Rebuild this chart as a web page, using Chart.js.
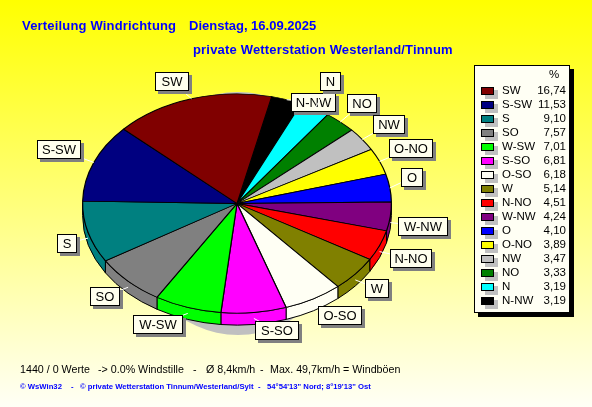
<!DOCTYPE html>
<html>
<head>
<meta charset="utf-8">
<style>
  html, body { margin: 0; padding: 0; width: 592px; height: 407px; overflow: hidden; }
  body { background: linear-gradient(#ffff00, #fffff6); }
  canvas { display: block; }
</style>
<script src="https://cdn.jsdelivr.net/npm/chart.js@4"></script>
</head>
<body>
<canvas id="windChart" width="592" height="407"></canvas>
<script>
// Legend order, largest first
const categories = ['SW', 'S-SW', 'S', 'SO', 'W-SW', 'S-SO', 'O-SO', 'W', 'N-NO', 'W-NW', 'O', 'O-NO', 'NW', 'NO', 'N', 'N-NW'];
const percent = [16.74, 11.53, 9.10, 7.57, 7.01, 6.81, 6.18, 5.14, 4.51, 4.24, 4.10, 3.89, 3.47, 3.33, 3.19, 3.19];
const colors = ['#800000', '#000080', '#008080', '#808080', '#00ff00', '#ff00ff', '#fffff4', '#808000', '#ff0000', '#800080', '#0000ff', '#ffff00', '#c0c0c0', '#008000', '#00ffff', '#000000'];

// Where the callout boxes sit (left, top, width)
const calloutBoxes = {
  'SW': [155, 72, 34], 'N': [320, 72, 21], 'N-NW': [291, 93, 45], 'NO': [347, 94, 30],
  'NW': [373, 115, 32], 'O-NO': [389, 139, 44], 'O': [401, 168, 22], 'W-NW': [398, 217, 50],
  'N-NO': [390, 249, 42], 'W': [365, 279, 24], 'O-SO': [318, 306, 44], 'S-SO': [255, 321, 44],
  'W-SW': [133, 315, 50], 'SO': [90, 287, 30], 'S': [57, 234, 20], 'S-SW': [37, 140, 44]
};

// Footer pieces (text, x)
const footerLine = [
  ['1440 / 0 Werte', 20], ['-> 0.0% Windstille', 98], ['-', 193], ['Ø 8,4km/h', 206],
  ['-', 260], ['Max. 49,7km/h = Windböen', 270]
];
const creditLine = [
  ['© WsWin32', 20], ['-', 71], ['© private Wetterstation Tinnum/Westerland/Sylt', 80],
  ['-', 258], ['54°54\'13" Nord; 8°19\'13" Ost', 267]
];

const SQUASH = 0.71;
const DEPTH = 12;
const BOX_H = 19;
const FONT = '"Liberation Sans", Arial, sans-serif';

// The wheel runs counter-clockwise in the original, so feed it reversed
const wheelLabels = categories.slice().reverse();
const wheelValues = percent.slice().reverse();
const wheelColors = colors.slice().reverse();

const tilt = {
  id: 'tilt',
  beforeDatasetsDraw(chart) {
    // grey shadow below the pie
    const ctx = chart.ctx;
    const arc = chart.getDatasetMeta(0).data[0];
    ctx.save();
    ctx.fillStyle = '#c0c0c0';
    ctx.beginPath();
    ctx.ellipse(arc.x + 1, arc.y + 10, arc.outerRadius - 45, arc.outerRadius * SQUASH + 12, 0, 0, Math.PI * 2);
    ctx.fill();
    ctx.restore();
  },
  beforeDatasetDraw(chart) {
    const ctx = chart.ctx;
    const arcs = chart.getDatasetMeta(0).data;
    const cx = arcs[0].x, cy = arcs[0].y, r = arcs[0].outerRadius;
    // side wall, only the front half shows
    const full = Math.PI * 2;
    arcs.forEach((arc, i) => {
      const wrap = arc.startAngle >= full ? full : 0;
      const from = Math.max(arc.startAngle - wrap, 0);
      const to = Math.min(arc.endAngle - wrap, Math.PI);
      if (to <= from) return;
      ctx.beginPath();
      ctx.ellipse(cx, cy, r, r * SQUASH, 0, from, to);
      ctx.ellipse(cx, cy + DEPTH, r, r * SQUASH, 0, to, from, true);
      ctx.closePath();
      ctx.fillStyle = wheelColors[i];
      ctx.fill();
      ctx.lineWidth = 1;
      ctx.strokeStyle = '#000';
      ctx.stroke();
    });
    ctx.save();
    ctx.translate(cx, cy);
    ctx.scale(1, SQUASH);
    ctx.translate(-cx, -cy);
  },
  afterDatasetDraw(chart) {
    chart.ctx.restore();
  },
  afterDatasetsDraw(chart) {
    const ctx = chart.ctx;
    const arcs = chart.getDatasetMeta(0).data;
    ctx.save();
    ctx.font = '13px ' + FONT;
    ctx.textAlign = 'center';
    ctx.textBaseline = 'middle';
    arcs.forEach((arc, i) => {
      const name = wheelLabels[i];
      const [x, y, w] = calloutBoxes[name];
      const mid = (arc.startAngle + arc.endAngle) / 2;
      const rimX = arc.x + Math.cos(mid) * arc.outerRadius;
      const rimY = arc.y + Math.sin(mid) * arc.outerRadius * SQUASH + (Math.sin(mid) > 0 ? DEPTH / 2 : 0);
      ctx.strokeStyle = '#fff';
      ctx.lineWidth = 1;
      ctx.beginPath();
      ctx.moveTo(rimX, rimY);
      ctx.lineTo(x + w / 2, y + BOX_H / 2);
      ctx.stroke();
      ctx.fillStyle = '#808080';
      ctx.fillRect(x + 3, y + 3, w, BOX_H);
      ctx.fillStyle = '#ffffee';
      ctx.fillRect(x, y, w, BOX_H);
      ctx.strokeStyle = '#000';
      ctx.strokeRect(x + 0.5, y + 0.5, w - 1, BOX_H - 1);
      ctx.fillStyle = '#000';
      ctx.fillText(name, x + w / 2, y + BOX_H / 2 + 1);
    });
    ctx.restore();
  }
};

const sidePanel = {
  id: 'sidePanel',
  afterDraw(chart) {
    const ctx = chart.ctx;
    ctx.save();
    // legend box
    ctx.fillStyle = '#000';
    ctx.fillRect(478, 69, 96, 248);
    ctx.fillStyle = '#fffff4';
    ctx.fillRect(474, 65, 96, 248);
    ctx.strokeStyle = '#000';
    ctx.lineWidth = 1;
    ctx.strokeRect(474.5, 65.5, 95, 247);
    ctx.font = '11.5px ' + FONT;
    ctx.textBaseline = 'middle';
    ctx.fillStyle = '#000';
    ctx.textAlign = 'left';
    ctx.fillText('%', 549, 75);
    categories.forEach((name, i) => {
      const y = 91 + i * 14;
      ctx.fillStyle = '#c0c0c0';
      ctx.fillRect(485, y - 1, 13, 9);
      ctx.fillStyle = colors[i];
      ctx.fillRect(481, y - 4, 13, 8);
      ctx.strokeStyle = '#000';
      ctx.strokeRect(481.5, y - 3.5, 12, 7);
      ctx.fillStyle = '#000';
      ctx.textAlign = 'left';
      ctx.fillText(name, 502, y);
      ctx.textAlign = 'right';
      ctx.fillText(percent[i].toFixed(2).replace('.', ','), 566, y);
    });
    // headings and footer
    ctx.textAlign = 'left';
    ctx.textBaseline = 'alphabetic';
    ctx.fillStyle = '#0000ff';
    ctx.font = 'bold 13px ' + FONT;
    ctx.letterSpacing = '0.18px';
    ctx.fillText('Verteilung Windrichtung', 22, 30);
    ctx.fillText('private Wetterstation Westerland/Tinnum', 193, 54);
    ctx.letterSpacing = '0px';
    ctx.fillText('Dienstag, 16.09.2025', 189, 30);
    ctx.fillStyle = '#000';
    ctx.font = '10.7px ' + FONT;
    footerLine.forEach(([text, x]) => ctx.fillText(text, x, 373));
    ctx.fillStyle = '#0000ff';
    ctx.font = 'bold 7.7px ' + FONT;
    creditLine.forEach(([text, x]) => ctx.fillText(text, x, 389));
    ctx.restore();
  }
};

const loadChart = () => {
  new Chart(document.getElementById('windChart').getContext('2d'), {
    type: 'pie',
    data: {
      labels: wheelLabels,
      datasets: [{
        data: wheelValues,
        backgroundColor: wheelColors,
        borderColor: '#000',
        borderWidth: 1.2
      }]
    },
    options: {
      responsive: false,
      animation: false,
      rotation: 13,
      layout: { padding: { left: 82, right: 200, top: 48, bottom: 48 } },
      plugins: {
        legend: { display: false },
        tooltip: { enabled: false },
        title: { display: false }
      }
    },
    plugins: [tilt, sidePanel]
  });
};

document.addEventListener('DOMContentLoaded', loadChart);
</script>
</body>
</html>
